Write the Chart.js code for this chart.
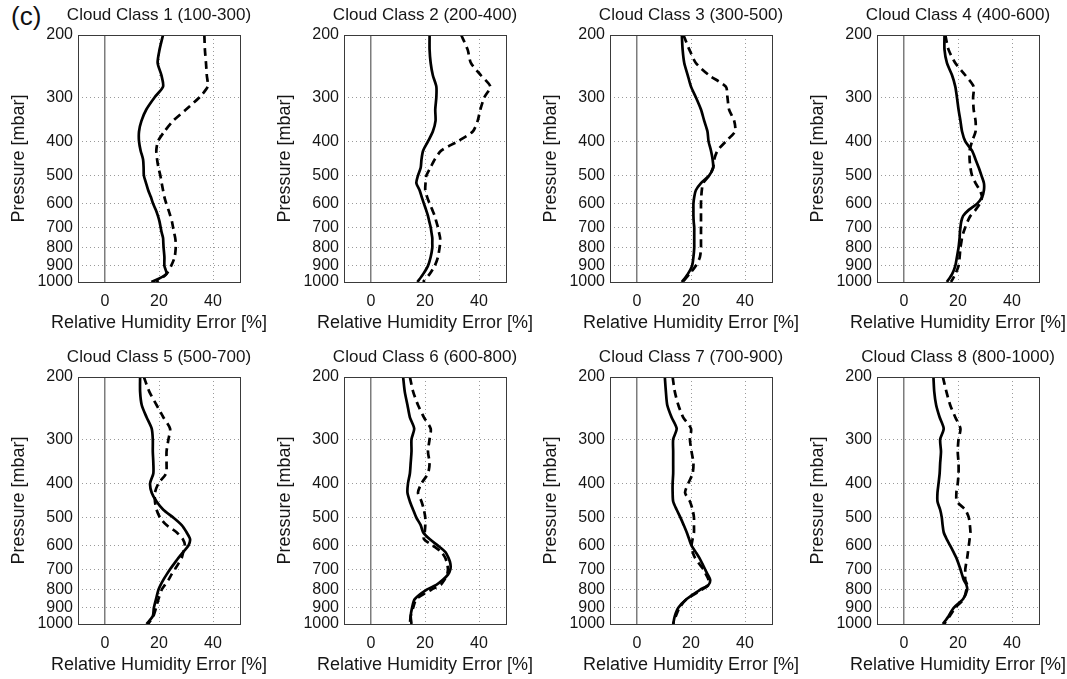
<!DOCTYPE html>
<html>
<head>
<meta charset="utf-8">
<script src="https://cdn.jsdelivr.net/npm/chart.js@4.4.1/dist/chart.umd.min.js"></script>
<style>
  body { margin: 0; background: #fff; width: 1067px; height: 679px; overflow: hidden; position: relative; font-family: "Liberation Sans", Arial, sans-serif; }
  canvas { position: absolute; }
  #tag { position: absolute; left: 11px; top: 1px; font-size: 26px; color: #111; }
</style>
</head>
<body>
<div id="tag">(c)</div>
<script>
// pressure levels [mbar], shared by every panel
const pressure = [200, 220, 240, 260, 280, 300, 325, 350, 375, 400, 425, 450, 475, 500, 525,
                  550, 575, 600, 625, 650, 675, 700, 725, 750, 775, 800, 850, 900, 950, 1000];
const xTicks = [0, 20, 40];
const yTicks = [200, 300, 400, 500, 600, 700, 800, 900, 1000];
const titles = ['Cloud Class 1 (100-300)', 'Cloud Class 2 (200-400)', 'Cloud Class 3 (300-500)', 'Cloud Class 4 (400-600)',
                'Cloud Class 5 (500-700)', 'Cloud Class 6 (600-800)', 'Cloud Class 7 (700-900)', 'Cloud Class 8 (800-1000)'];

// relative humidity error [%] per level: solid and dashed curve of each class
const solid1  = [21.5, 20.2, 19.5, 20.9, 21.5, 18.4, 15.3, 13.5, 12.6, 12.6, 13.2, 14.1, 14.3, 14.4, 15.2, 16, 17, 17.8, 18.8, 19.6, 20.2, 20.6, 21, 21.5, 21.6, 21.7, 22, 22, 22.7, 17.2];
const dashed1 = [36.8, 37, 37.4, 37.7, 38, 35, 30, 25.2, 22, 19.6, 19, 19.3, 19.8, 20.5, 21, 21.5, 22, 22.7, 23.5, 24.2, 24.8, 25.2, 25.6, 26, 26.2, 26.2, 25.8, 24.5, 22.7, 19];
const solid2  = [21.7, 21.7, 22.1, 22.9, 24.2, 24.2, 23.8, 23.9, 22.9, 21.1, 19.3, 18.7, 18.4, 17.4, 16.8, 18, 18.8, 19.6, 20.4, 21.1, 21.6, 22.1, 22.4, 22.7, 22.7, 22.7, 22.1, 21.1, 19.3, 17.2];
const dashed2 = [33.4, 35.8, 37, 40.7, 44.2, 42, 40.5, 39.5, 37.7, 32.1, 26, 23.6, 22, 20.5, 20.2, 20.1, 20.8, 21.7, 22.7, 23.6, 24.2, 24.8, 25.2, 25.6, 25.6, 25.4, 24.8, 23.6, 21.7, 19.3];
const solid3  = [16.6, 16.9, 17.5, 18.8, 20, 21.8, 23.7, 24.9, 26.1, 26.5, 27.4, 28, 28.2, 26.7, 23.7, 21.8, 21.2, 20.9, 20.9, 20.9, 21, 21.2, 21.2, 21.2, 21.2, 21.2, 20.9, 20.4, 18.8, 16.6];
const dashed3 = [17.2, 19.4, 21.8, 26.7, 32.9, 33.5, 34.1, 36, 36.3, 32.9, 29.8, 28.6, 28.2, 26.7, 24.5, 24, 23.8, 23.7, 23.7, 23.7, 23.7, 23.7, 23.7, 23.7, 23.7, 23.7, 23.3, 21.8, 19.4, 16.9];
const solid4  = [15, 15, 15.9, 17.8, 19, 19.6, 20.2, 20.9, 21.5, 22.7, 25.2, 26.5, 27.7, 28.7, 29.6, 29.6, 28.9, 27.1, 24, 21.9, 21.2, 20.9, 20.7, 20.6, 20.4, 20.2, 19.6, 19, 17.8, 15.9];
const dashed4 = [15.3, 16.5, 19, 22.7, 25.8, 25.6, 25.8, 26.5, 26.5, 25.2, 24.3, 24.3, 24.6, 25.2, 26.5, 28.1, 28.9, 28.1, 26.5, 24.6, 23.5, 22.7, 22, 21.5, 21.2, 20.9, 20.6, 20.2, 19, 17.4];
const solid5  = [13, 13, 13.6, 15.4, 17.3, 17.7, 17.7, 17.9, 17.9, 16.7, 17.3, 19.1, 21.6, 25.3, 28.4, 30.2, 31.5, 30.9, 29, 27.2, 25.6, 24.1, 22.8, 21.6, 20.6, 19.8, 18.9, 18.1, 17.7, 15.4];
const dashed5 = [14.4, 16.4, 19.1, 21.6, 24.1, 23.5, 22.8, 22.8, 22.6, 19.8, 18.5, 18.5, 19.1, 20.4, 22.8, 26.5, 28.8, 29.6, 29, 28.4, 27.2, 25.9, 24.6, 23.5, 22.2, 21, 19.8, 18.9, 17.9, 16];
const solid6  = [11.9, 12.5, 13.5, 14.4, 16, 15, 15, 14.7, 14.4, 13.7, 13.5, 14.4, 15.6, 16.8, 18.4, 19.3, 21.7, 24.8, 27.5, 28.7, 29.4, 29.4, 28.5, 26.6, 24.2, 20.5, 16.2, 15.2, 14.7, 15];
const dashed6 = [14.4, 15.6, 17.4, 19.6, 22.1, 21.7, 21.1, 21.7, 21.1, 18.7, 17.4, 18.7, 19.6, 20.1, 20.1, 19.9, 19.6, 22.9, 26, 27.5, 28.2, 28.5, 28.2, 27.2, 25.8, 22.3, 16.8, 15.6, 14.7, 14.4];
const solid7  = [10.3, 10.7, 11.2, 12.8, 14.7, 13.4, 13.4, 13.4, 13.4, 13.2, 13.2, 13.4, 14.7, 16.1, 17.3, 18.4, 19.3, 20.2, 21.7, 23.1, 24.2, 25.2, 26.2, 27.1, 26.5, 23.4, 18.4, 15.3, 14, 13.4];
const dashed7 = [13.2, 14, 15.3, 17.1, 20, 19.6, 20.2, 20.9, 20.6, 19, 17.8, 19.6, 20.6, 21.1, 21.1, 21.1, 20.6, 20.2, 20.6, 21.5, 23, 24.6, 25.6, 26.5, 26.5, 24, 18.4, 15.7, 14.4, 13.4];
const solid8  = [10.9, 11.2, 11.9, 13.2, 14.7, 13.4, 13.7, 13.4, 13.2, 12.8, 12.4, 12.4, 13.4, 14, 14.3, 14.7, 15.8, 17.1, 18.3, 19.4, 20.2, 20.9, 21.5, 22.1, 23.1, 23.4, 21.9, 18.4, 16.5, 14.4];
const dashed8 = [14.4, 15.7, 17.1, 19, 20.9, 20.2, 19.9, 20.2, 20.2, 19.9, 19.4, 19.6, 22.7, 24, 24.4, 24.6, 24.3, 24, 23.7, 23.4, 23, 22.7, 22.7, 22.7, 23.4, 23.1, 22.1, 19, 16.9, 14.9];

const panels = [[solid1, dashed1], [solid2, dashed2], [solid3, dashed3], [solid4, dashed4],
                [solid5, dashed5], [solid6, dashed6], [solid7, dashed7], [solid8, dashed8]];

const FONT = '"Liberation Sans", Arial, sans-serif';
const TXT = '#161616';

function toPoints(vals) {
  return vals.map((v, i) => ({ x: v, y: pressure[i] }));
}

// axes box round the plot area
const frame = {
  id: 'frame',
  afterDatasetsDraw(chart) {
    const { ctx, chartArea: a } = chart;
    ctx.save();
    ctx.strokeStyle = '#3a3a3a';
    ctx.lineWidth = 1;
    ctx.strokeRect(Math.round(a.left) + 0.5, Math.round(a.top) + 0.5,
                   Math.round(a.right - a.left), Math.round(a.bottom - a.top));
    ctx.restore();
  }
};

// canvas is symmetric round the plot (78 | 162 | 78) so the titles centre on it
panels.forEach((p, i) => {
  const col = i % 4, row = Math.floor(i / 4);
  const cv = document.createElement('canvas');
  cv.width = 318; cv.height = 338;
  cv.style.left = Math.round(266.2 * col) + 'px';
  cv.style.top = (row * 342) + 'px';
  document.body.appendChild(cv);

  new Chart(cv, {
    type: 'line',
    data: {
      datasets: [
        { data: toPoints(p[0]), borderColor: '#000', borderWidth: 2.7, pointRadius: 0, tension: 0.25 },
        { data: toPoints(p[1]), borderColor: '#000', borderWidth: 2.7, borderDash: [8, 5], pointRadius: 0, tension: 0.25 }
      ]
    },
    options: {
      responsive: false,
      animation: false,
      devicePixelRatio: 1,
      layout: { padding: 0 },
      plugins: {
        legend: { display: false },
        tooltip: { enabled: false },
        title: {
          display: true, text: titles[i], color: TXT,
          font: { family: FONT, size: 17, weight: 'normal' },
          padding: { top: 5, bottom: 9.6 }
        },
        subtitle: {
          display: true, position: 'bottom', text: 'Relative Humidity Error [%]', color: TXT,
          font: { family: FONT, size: 18, weight: 'normal' },
          padding: { top: 0, bottom: 4.2 }
        }
      },
      scales: {
        x: {
          type: 'linear', min: -10, max: 50,
          afterBuildTicks: s => { s.ticks = xTicks.map(v => ({ value: v })); },
          afterFit: s => { s.height = 30.2; },
          ticks: { autoSkip: false, maxRotation: 0, padding: 10, color: TXT,
                   font: { family: FONT, size: 16 }, callback: v => String(v) },
          grid: {
            drawTicks: false,
            color: c => (c.tick && c.tick.value === 0) ? '#7c7c7c' : '#9a9a9a',
            lineWidth: c => (c.tick && c.tick.value === 0) ? 1.5 : 1
          },
          border: { display: false, dash: c => (c.tick && c.tick.value === 0) ? [] : [1, 3] }
        },
        y: {
          type: 'logarithmic', reverse: true, min: 200, max: 1000,
          afterBuildTicks: s => { s.ticks = yTicks.map(v => ({ value: v })); },
          afterFit: s => { s.width = 78; },
          ticks: { autoSkip: false, padding: 5, color: TXT,
                   font: { family: FONT, size: 16 }, callback: v => String(v) },
          grid: {
            drawTicks: false,
            color: c => (c.tick && (c.tick.value === 200 || c.tick.value === 1000)) ? 'rgba(0,0,0,0)' : '#9a9a9a'
          },
          border: { display: false, dash: [1, 3] },
          title: { display: true, text: 'Pressure [mbar]', color: TXT,
                   font: { family: FONT, size: 18 }, padding: { top: 8, bottom: 0 } }
        },
        // empty spacer on the right, keeps the plot in the middle of the canvas
        yPad: {
          type: 'linear', position: 'right', min: 0, max: 1,
          afterFit: s => { s.width = 78; },
          ticks: { display: false },
          grid: { display: false, drawTicks: false },
          border: { display: false }
        }
      }
    },
    plugins: [frame]
  });
});
</script>
</body>
</html>
